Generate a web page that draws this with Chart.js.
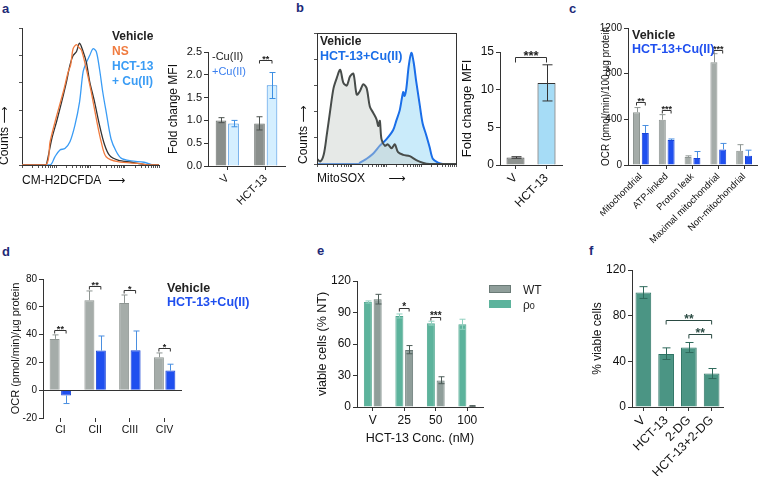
<!DOCTYPE html>
<html>
<head>
<meta charset="utf-8">
<script src="https://cdn.jsdelivr.net/npm/chart.js@4.4.1/dist/chart.umd.min.js"></script>
<style>
body { margin: 0; background: #fff; width: 764px; height: 478px; position: relative; overflow: hidden;
  font-family: 'Liberation Sans', Arial, sans-serif; }
.box { position: absolute; }
.t { position: absolute; white-space: nowrap; line-height: 1; font-weight: bold; }
.lab { position: absolute; font-weight: bold; font-size: 13px; line-height: 1; color: #1e2a78; }
.sw { position: absolute; width: 22px; height: 8px; }
</style>
</head>
<body>

<!-- panel letters -->
<div class="lab" style="left:2px;top:2px">a</div>
<div class="lab" style="left:296px;top:1px">b</div>
<div class="lab" style="left:569px;top:2px">c</div>
<div class="lab" style="left:2px;top:245px">d</div>
<div class="lab" style="left:317px;top:244px">e</div>
<div class="lab" style="left:589px;top:244px">f</div>

<!-- charts -->
<div class="box" style="left:-3px;top:18px;width:166px;height:170px"><canvas id="aHist"></canvas></div>
<div class="box" style="left:166px;top:42px;width:125px;height:186px"><canvas id="aBar"></canvas></div>
<div class="box" style="left:296px;top:23px;width:164px;height:163px"><canvas id="bHist"></canvas></div>
<div class="box" style="left:460px;top:42px;width:108px;height:186px"><canvas id="bBar"></canvas></div>
<div class="box" style="left:600px;top:18px;width:163px;height:227px"><canvas id="cBar"></canvas></div>
<div class="box" style="left:9px;top:269px;width:179px;height:169px"><canvas id="dBar"></canvas></div>
<div class="box" style="left:315px;top:271px;width:174px;height:175px"><canvas id="eBar"></canvas></div>
<div class="box" style="left:590px;top:260px;width:139px;height:216px"><canvas id="fBar"></canvas></div>

<!-- in-plot legends -->
<div class="t" style="left:112px;top:30px;font-size:12px;color:#222">Vehicle</div>
<div class="t" style="left:112px;top:45px;font-size:12px;color:#f07b3f">NS</div>
<div class="t" style="left:112px;top:60px;font-size:12px;color:#3a9cf5">HCT-13</div>
<div class="t" style="left:112px;top:75px;font-size:12px;color:#3a9cf5">+ Cu(II)</div>

<div class="t" style="left:212px;top:51px;font-size:11px;font-weight:normal;color:#222">-Cu(II)</div>
<div class="t" style="left:212px;top:66px;font-size:11px;font-weight:normal;color:#3a7fef">+Cu(II)</div>

<div class="t" style="left:320px;top:35px;font-size:12px;color:#222">Vehicle</div>
<div class="t" style="left:320px;top:50px;font-size:12.5px;color:#1a6ee8">HCT-13+Cu(II)</div>

<div class="t" style="left:632px;top:29px;font-size:12.5px;color:#222">Vehicle</div>
<div class="t" style="left:632px;top:43px;font-size:12.5px;color:#1f4fef">HCT-13+Cu(II)</div>

<div class="t" style="left:167px;top:282px;font-size:12.5px;color:#222">Vehicle</div>
<div class="t" style="left:167px;top:296px;font-size:12.5px;color:#1f4fef">HCT-13+Cu(II)</div>

<div class="sw" style="left:489px;top:285px;background:#8f9e9a;border:1px solid #6a7a76;box-sizing:border-box"></div>
<div class="sw" style="left:489px;top:300px;background:#5cb39c"></div>
<div class="t" style="left:523px;top:284px;font-size:12px;font-weight:normal;color:#222">WT</div>
<div class="t" style="left:523px;top:299px;font-size:12px;font-weight:normal;color:#222">ρ<span style="font-size:9px">0</span></div>

<script>
/* ---------- data ---------- */
// a: flow histograms (channel 0-100 on a 4-decade log axis, counts 0-100)
const aVehX = [0, 17, 18, 21.7, 25.3, 28.9, 32.5, 35, 37.3, 39.8, 42, 44.6, 47, 49.4, 53, 56.6, 60.2, 63.9, 70, 79.5, 89, 92, 100];
const aVehY = [0, 0, 1, 19, 32, 46, 61, 73, 80, 83, 89, 83, 75, 61, 46, 29, 15, 7, 3.6, 2, 0.5, 0, 0];
const aNsX = [0, 17.5, 20.5, 25.3, 30, 33.7, 35.5, 37.3, 39.8, 41.5, 43.4, 47, 50.6, 54.2, 57.8, 61.4, 70, 86.7, 92, 100];
const aNsY = [0, 0, 17, 36, 53, 68, 73, 85, 88, 86, 84, 70, 53, 34, 17, 6, 2.4, 1, 0, 0];
const aHctX = [0, 20.5, 24, 27.7, 31.3, 35, 38.6, 42, 44.6, 47, 49.4, 51.8, 54.2, 56.6, 59, 61.4, 65, 68.7, 72.3, 79.5, 89, 96, 100];
const aHctY = [0, 0, 6, 11, 12, 17, 29, 46, 68, 75, 80, 85, 83, 70, 53, 39, 19, 10, 5, 3, 2, 0, 0];

// a: fold change MFI
const aLabels = ['V', 'HCT-13'];
const aNoCu = [1.0, 0.93];
const aNoCuHi = [1.06, 1.08];
const aNoCuLo = [0.95, 0.79];
const aCu = [0.93, 1.77];
const aCuHi = [1.0, 2.05];
const aCuLo = [0.86, 1.48];

// b: MitoSOX histograms
const bVehX = [0, 2.4, 4.8, 7, 9.5, 11.9, 14.3, 16.7, 19, 21.4, 23.8, 26.2, 28.6, 31, 33.3, 35.7, 38, 40.5, 42.9, 44, 45.2, 46.4, 48.8, 51, 53.6, 56, 58.3, 62, 66.7, 71.4, 76, 81, 100];
const bVehY = [4, 2, 7, 22, 41, 58, 66, 72, 62, 60, 67, 69, 53, 56, 61, 58, 44, 39, 34, 29, 33, 19, 14, 15, 12, 15, 9, 7, 6, 3, 1, 0, 0];
const bHctX = [0, 30, 31, 35.7, 40.5, 45.2, 50, 54.8, 57, 59.5, 62, 63, 64.3, 66, 67.9, 69.5, 71.4, 73.8, 76, 78.6, 81, 83.3, 87, 90.5, 100];
const bHctY = [0, 0, 1, 4, 8, 14, 19, 26, 33, 41, 55, 52, 58, 75, 85, 78, 63, 46, 31, 22, 13, 4, 1, 0, 0];

// b: fold change MFI
const bLabels = ['V', 'HCT-13'];
const bVals = [1.0, 10.9];
const bHi = [1.1, 13.3];
const bLo = [0.9, 8.5];

// c: OCR
const cLabels = ['Mitochondrial', 'ATP-linked', 'Proton leak', 'Maximal mitochondrial', 'Non-mitochondrial'];
const cVeh = [462, 397, 71, 900, 124];
const cVehHi = [503, 441, 80, 975, 178];
const cHct = [281, 219, 62, 136, 80];
const cHctHi = [346, 228, 118, 189, 130];

// d: complex activity
const dLabels = ['CI', 'CII', 'CIII', 'CIV'];
const dVeh = [36.9, 64.7, 62.8, 23.7];
const dVehHi = [39.8, 71.4, 68.5, 26.8];
const dHct = [-3.8, 28.5, 28.7, 14.1];
const dHctHi = [-9.6, 39, 42.6, 18.7];

// e: viability, WT vs rho0
const eLabels = ['V', '25', '50', '100'];
const eRho = [100, 86.7, 79.8, 78.8];
const eRhoHi = [101, 88.6, 81.7, 83.6];
const eRhoLo = [99, 84.8, 77.9, 74];
const eWt = [102.6, 54.4, 25.3, 1.0];
const eWtHi = [107.3, 58.5, 28.8, 1.3];
const eWtLo = [98.1, 50.7, 22.2, 0.7];

// f: viability with 2-DG
const fLabels = ['V', 'HCT-13', '2-DG', 'HCT-13+2-DG'];
const fVals = [100.4, 46.5, 52.1, 29.3];
const fHi = [105.4, 51.8, 56.5, 33.7];
const fLo = [95.1, 41.6, 47.7, 24.9];

/* ---------- helpers ---------- */
const FAM = "'Liberation Sans', Arial, 'DejaVu Sans', sans-serif";
Chart.defaults.font.family = FAM;
Chart.defaults.color = '#111';
Chart.defaults.animation = false;
Chart.defaults.plugins.legend.display = false;
Chart.defaults.plugins.tooltip.enabled = false;

const fixW = w => s => { s.width = w; };
const fixH = h => s => { s.height = h; s.paddingLeft = 0; s.paddingRight = 0; };
const pts = (xs, ys) => xs.map((x, i) => ({ x: x, y: ys[i] }));

// error bars read from errHi / errLo arrays on each dataset
const errPlugin = {
  id: 'errs',
  afterDatasetsDraw(chart) {
    const ctx = chart.ctx, ys = chart.scales.y;
    chart.data.datasets.forEach((ds, d) => {
      if (!ds.errHi) return;
      const meta = chart.getDatasetMeta(d);
      ctx.save();
      ctx.lineWidth = 1;
      meta.data.forEach((el, i) => {
        const x = Math.round(el.x) + 0.5;
        const hi = ys.getPixelForValue(ds.errHi[i]);
        const lo = ys.getPixelForValue(ds.errLo ? ds.errLo[i] : ds.data[i]);
        const c = ds.cap || 3;
        ctx.strokeStyle = Array.isArray(ds.errColor) ? ds.errColor[i] : ds.errColor;
        ctx.beginPath();
        ctx.moveTo(x, lo); ctx.lineTo(x, hi);
        ctx.moveTo(x - c, hi); ctx.lineTo(x + c, hi);
        if (ds.errLo) { ctx.moveTo(x - c, lo); ctx.lineTo(x + c, lo); }
        ctx.stroke();
      });
      ctx.restore();
    });
  }
};

// significance brackets + optional zero line
const bracketPlugin = {
  id: 'brackets',
  afterDatasetsDraw(chart, args, opts) {
    const ctx = chart.ctx, ys = chart.scales.y, area = chart.chartArea;
    ctx.save();
    ctx.lineWidth = 1;
    if (opts.zero) {
      const y0 = Math.round(ys.getPixelForValue(0)) + 0.5;
      ctx.strokeStyle = '#333';
      ctx.beginPath(); ctx.moveTo(area.left, y0); ctx.lineTo(area.right, y0); ctx.stroke();
    }
    ctx.strokeStyle = opts.color || '#333';
    ctx.fillStyle = opts.color || '#222';
    const sz = opts.size || 9;
    (opts.list || []).forEach(b => {
      const x1 = chart.getDatasetMeta(b.a[0]).data[b.a[1]].x;
      const x2 = chart.getDatasetMeta(b.b[0]).data[b.b[1]].x;
      const y = Math.round(ys.getPixelForValue(b.y)) + 0.5;
      const tk = opts.tick || 4;
      ctx.beginPath();
      ctx.moveTo(x1, y + tk); ctx.lineTo(x1, y); ctx.lineTo(x2, y); ctx.lineTo(x2, y + tk);
      ctx.stroke();
      ctx.font = 'bold ' + sz + 'px ' + FAM;
      ctx.textAlign = 'center';
      ctx.textBaseline = 'alphabetic';
      // asterisks sit high in the em box, so the baseline goes just under the line
      ctx.fillText(b.t, (x1 + x2) / 2, y + sz * 0.18);
    });
    ctx.restore();
  }
};

// box around the histogram plots
const framePlugin = {
  id: 'frame',
  afterDraw(chart, args, opts) {
    if (!opts.on) return;
    const a = chart.chartArea, ctx = chart.ctx;
    ctx.save();
    ctx.strokeStyle = '#333'; ctx.lineWidth = 1;
    ctx.strokeRect(Math.round(a.left) + 0.5, Math.round(a.top) + 0.5, Math.round(a.right - a.left), Math.round(a.bottom - a.top));
    ctx.restore();
  }
};

function logTicks(scale) {
  const t = [];
  for (let d = 0; d < 4; d++) {
    t.push({ value: d * 25 });
    for (let k = 2; k <= 9; k++) t.push({ value: d * 25 + 25 * Math.log10(k) });
  }
  t.push({ value: 100 });
  scale.ticks = t;
}

function makeHist(id, sets, o) {
  return new Chart(document.getElementById(id), {
    type: 'line',
    data: { datasets: sets },
    options: {
      responsive: true, maintainAspectRatio: false,
      layout: { padding: { top: 10, right: 4 } },
      elements: { point: { radius: 0 }, line: { tension: 0.3 } },
      scales: {
        x: {
          type: 'linear', min: 0, max: 100,
          afterBuildTicks: logTicks,
          ticks: { callback: () => '' },
          grid: { drawOnChartArea: false, tickLength: 3, color: '#555' },
          border: { color: '#333' },
          title: { display: true, text: o.xTitle, align: 'start', padding: 0, font: { size: 12 }, color: '#111' },
          afterFit: fixH(o.xH)
        },
        y: {
          min: 0, max: 100,
          ticks: { stepSize: 20, callback: () => '' },
          grid: { drawOnChartArea: false, tickLength: 3, color: '#555' },
          border: { color: '#333' },
          title: { display: true, text: 'Counts \u27f6', align: 'start', padding: 0, font: { size: 12 }, color: '#111' },
          afterFit: fixW(o.yW)
        }
      },
      plugins: { frame: { on: !!o.frame } }
    },
    plugins: [framePlugin]
  });
}

function makeBar(id, o) {
  return new Chart(document.getElementById(id), {
    type: 'bar',
    data: { labels: o.labels, datasets: o.sets },
    options: {
      responsive: true, maintainAspectRatio: false,
      layout: { padding: { top: 10, right: 6 } },
      datasets: { bar: { categoryPercentage: o.cat, barPercentage: o.bar, borderWidth: 1 } },
      scales: {
        x: {
          grid: { drawOnChartArea: false, offset: false, tickLength: 4, color: '#333' },
          border: { color: '#333', display: o.xBorder !== false },
          ticks: { color: '#111', font: { size: o.xFont }, minRotation: o.rot || 0, maxRotation: o.rot || 0, padding: 2, autoSkip: false },
          title: o.xTitle ? { display: true, text: o.xTitle, padding: 0, font: { size: o.xTitleFont }, color: '#111' } : { display: false },
          afterFit: fixH(o.xH)
        },
        y: {
          min: o.min, max: o.max,
          ticks: { stepSize: o.step, font: { size: o.yFont }, color: '#111', padding: 2, callback: o.fmt || (v => v) },
          grid: { drawOnChartArea: false, tickLength: 4, color: '#333' },
          border: { color: '#333' },
          title: { display: true, text: o.yTitle, padding: 0, font: { size: o.yTitleFont }, color: '#111' },
          afterFit: fixW(o.yW)
        }
      },
      plugins: { brackets: o.brackets || {} }
    },
    plugins: [errPlugin, bracketPlugin]
  });
}

/* ---------- a ---------- */
makeHist('aHist', [
  { data: pts(aNsX, aNsY), borderColor: '#f07b3f', borderWidth: 1.3 },
  { data: pts(aVehX, aVehY), borderColor: '#333', borderWidth: 1.3 },
  { data: pts(aHctX, aHctY), borderColor: '#3a9cf5', borderWidth: 1.3 }
], { xTitle: 'CM-H2DCFDA  \u27f6', xH: 23, yW: 25 });

makeBar('aBar', {
  labels: aLabels, cat: 0.65, bar: 0.85, rot: 45, xFont: 11, xH: 62,
  min: 0, max: 2.5, step: 0.5, yFont: 11, yW: 42, fmt: v => v.toFixed(1),
  yTitle: 'Fold change MFI', yTitleFont: 12,
  sets: [
    { data: aNoCu, backgroundColor: '#8a8f8c', borderColor: '#6b706d', errHi: aNoCuHi, errLo: aNoCuLo, errColor: '#4e5350', cap: 3 },
    { data: aCu, backgroundColor: '#d5efff', borderColor: '#3c8fe3', errHi: aCuHi, errLo: aCuLo, errColor: '#3c8fe3', cap: 3 }
  ],
  brackets: { list: [{ a: [0, 1], b: [1, 1], y: 2.33, t: '**' }], size: 9, tick: 3 }
});

/* ---------- b ---------- */
makeHist('bHist', [
  { data: pts(bVehX, bVehY), borderColor: '#474c4a', borderWidth: 2, fill: 'origin', backgroundColor: 'rgba(200,206,202,0.45)', order: 0 },
  { data: pts(bHctX, bHctY), borderColor: '#1a6ee8', borderWidth: 2, fill: 'origin', backgroundColor: 'rgba(150,215,245,0.5)', order: 1 }
], { xTitle: 'MitoSOX       \u27f6', xH: 22, yW: 21, frame: true });

makeBar('bBar', {
  labels: bLabels, cat: 1, bar: 0.58, rot: 45, xFont: 12, xH: 63,
  min: 0, max: 15, step: 5, yFont: 12, yW: 40,
  yTitle: 'Fold change MFI', yTitleFont: 13,
  sets: [
    { data: bVals, backgroundColor: ['#8e9390', '#a6dcf6'], borderColor: ['#555', '#333'], errHi: bHi, errLo: bLo, errColor: '#333', cap: 5 }
  ],
  brackets: { list: [{ a: [0, 0], b: [0, 1], y: 14.4, t: '***' }], size: 13, tick: 5 }
});

/* ---------- c ---------- */
makeBar('cBar', {
  labels: cLabels, cat: 0.68, bar: 0.8, rot: 45, xFont: 9.5, xH: 80,
  min: 0, max: 1200, step: 400, yFont: 10, yW: 28,
  yTitle: 'OCR (pmol/min)/100 \u00b5g protein', yTitleFont: 10,
  sets: [
    { data: cVeh, backgroundColor: '#a5aca9', borderColor: '#8e9592', errHi: cVehHi, errColor: '#8e9592', cap: 3 },
    { data: cHct, backgroundColor: '#1f4fef', borderColor: '#1a45d8', errHi: cHctHi, errColor: '#4a8fe0', cap: 3 }
  ],
  brackets: { list: [
    { a: [0, 0], b: [1, 0], y: 555, t: '**' },
    { a: [0, 1], b: [1, 1], y: 485, t: '***' },
    { a: [0, 3], b: [1, 3], y: 1010, t: '***' }
  ], size: 9, tick: 3 }
});

/* ---------- d ---------- */
makeBar('dBar', {
  labels: dLabels, cat: 0.66, bar: 0.87, xFont: 10.5, xH: 20, xBorder: false,
  min: -20, max: 80, step: 20, yFont: 10, yW: 34,
  yTitle: 'OCR (pmol/min)/\u00b5g protein', yTitleFont: 11,
  sets: [
    { data: dVeh, backgroundColor: '#a5aca9', borderColor: '#8e9592', errHi: dVehHi, errColor: '#8e9592', cap: 3 },
    { data: dHct, backgroundColor: '#1f4fef', borderColor: '#1a45d8', errHi: dHctHi, errColor: '#4a8fe0', cap: 3 }
  ],
  brackets: { zero: true, list: [
    { a: [0, 0], b: [1, 0], y: 43.6, t: '**' },
    { a: [0, 1], b: [1, 1], y: 74.7, t: '**' },
    { a: [0, 2], b: [1, 2], y: 72.3, t: '*' },
    { a: [0, 3], b: [1, 3], y: 30.4, t: '*' }
  ], size: 9, tick: 3 }
});

/* ---------- e ---------- */
makeBar('eBar', {
  labels: eLabels, cat: 0.62, bar: 0.82, xFont: 12, xH: 39,
  xTitle: 'HCT-13 Conc. (nM)', xTitleFont: 12.5,
  min: 0, max: 120, step: 30, yFont: 12, yW: 42,
  yTitle: 'viable cells (% NT)', yTitleFont: 12.5,
  sets: [
    { data: eRho, backgroundColor: '#5cb39c', borderColor: '#52a891', errHi: eRhoHi, errLo: eRhoLo, errColor: '#8fd0bf', cap: 3 },
    { data: eWt, backgroundColor: '#8f9e9a', borderColor: '#6a7a76', errHi: eWtHi, errLo: eWtLo, errColor: '#4d5c58', cap: 3 }
  ],
  brackets: { list: [
    { a: [0, 1], b: [1, 1], y: 94, t: '*' },
    { a: [0, 2], b: [1, 2], y: 85.5, t: '***' }
  ], size: 10, tick: 3 }
});

/* ---------- f ---------- */
makeBar('fBar', {
  labels: fLabels, cat: 1, bar: 0.69, rot: 45, xFont: 12.5, xH: 69,
  min: 0, max: 120, step: 40, yFont: 12, yW: 42,
  yTitle: '% viable cells', yTitleFont: 12,
  sets: [
    { data: fVals, backgroundColor: '#4b9584', borderColor: '#2f7565', errHi: fHi, errLo: fLo, errColor: '#2f6a5c', cap: 4 }
  ],
  brackets: { color: '#2a4a42', list: [
    { a: [0, 1], b: [0, 3], y: 76.5, t: '**' },
    { a: [0, 2], b: [0, 3], y: 63.7, t: '**' }
  ], size: 12, tick: 4 }
});
</script>
</body>
</html>
